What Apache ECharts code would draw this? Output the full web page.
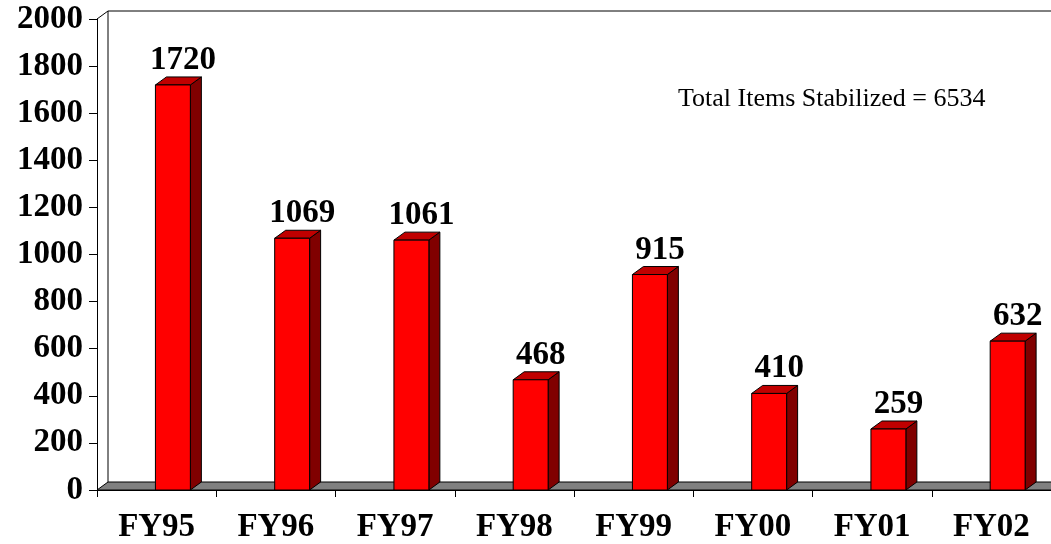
<!DOCTYPE html>
<html>
<head>
<meta charset="utf-8">
<script src="https://cdn.jsdelivr.net/npm/echarts@6/dist/echarts.min.js"></script>
<style>
html,body{margin:0;padding:0;background:#fff;}
#chart{width:1051px;height:544px;}
</style>
</head>
<body>
<div id="chart"></div>
<script>
const categories = ['FY95','FY96','FY97','FY98','FY99','FY00','FY01','FY02'];
const values = [1720, 1069, 1061, 468, 915, 410, 259, 632];
const yTicks = {min: 0, max: 2000, interval: 200};
const totalText = 'Total Items Stabilized = 6534';

const DX = 11, DY = -8;
const FONT = '"Liberation Serif", "Times New Roman", serif';

const chart = echarts.init(document.getElementById('chart'), null, {renderer: 'canvas'});

function renderFrame(params, api) {
  const cs = params.coordSys;
  const x = cs.x, y = cs.y, w = cs.width, h = cs.height;
  return {
    type: 'group',
    children: [
      {type: 'polygon', shape: {points: [[x, y + h], [x + w, y + h], [x + w + DX, y + h + DY], [x + DX, y + h + DY]]},
       style: {fill: '#808080', stroke: '#000', lineWidth: 1}},
      {type: 'polyline', shape: {points: [[x, y], [x + DX, y + DY], [x + w + DX, y + DY]]},
       style: {fill: null, stroke: '#000', lineWidth: 1}},
      {type: 'line', shape: {x1: x + DX, y1: y + DY, x2: x + DX, y2: y + h + DY},
       style: {stroke: '#000', lineWidth: 1}}
    ]
  };
}

function renderBar(params, api) {
  const idx = api.value(0);
  const val = api.value(1);
  const top = api.coord([idx, val]);
  const base = api.coord([idx, 0]);
  const bw = api.size([1, 0])[0];
  const x0 = top[0] - bw * 0.01;
  const bwid = bw * 0.293;
  const yt = top[1], yb = base[1];
  return {
    type: 'group',
    children: [
      {type: 'polygon', shape: {points: [[x0 + bwid, yt], [x0 + bwid + DX, yt + DY], [x0 + bwid + DX, yb + DY], [x0 + bwid, yb]]},
       style: {fill: '#800000', stroke: '#000', lineWidth: 1}},
      {type: 'polygon', shape: {points: [[x0, yt], [x0 + DX, yt + DY], [x0 + bwid + DX, yt + DY], [x0 + bwid, yt]]},
       style: {fill: '#C00000', stroke: '#000', lineWidth: 1}},
      {type: 'rect', shape: {x: x0, y: yt, width: bwid, height: yb - yt},
       style: {fill: '#FF0000', stroke: '#000', lineWidth: 1}},
      {type: 'text', x: x0 + DX + bwid / 2 - 1, y: yt + DY,
       style: {text: String(val), fill: '#000', font: 'bold 33px ' + FONT, align: 'center', verticalAlign: 'bottom'}}
    ]
  };
}

const option = {
  backgroundColor: '#fff',
  animation: false,
  grid: {left: 97, top: 19, width: 956, height: 472, containLabel: false},
  xAxis: {
    type: 'category',
    data: categories,
    boundaryGap: true,
    axisLine: {show: true, lineStyle: {color: '#000', width: 1}},
    axisTick: {show: true, length: 7, interval: 0, lineStyle: {color: '#000'}},
    axisLabel: {color: '#000', fontFamily: FONT, fontWeight: 'bold', fontSize: 33, margin: 21, interval: 0},
    splitLine: {show: false}
  },
  yAxis: {
    type: 'value',
    min: yTicks.min, max: yTicks.max, interval: yTicks.interval,
    axisLine: {show: true, lineStyle: {color: '#000', width: 1}},
    axisTick: {show: true, length: 8, lineStyle: {color: '#000'}},
    axisLabel: {color: '#000', fontFamily: FONT, fontWeight: 'bold', fontSize: 33, margin: 14,
                padding: [5, 0, 0, 0], formatter: v => String(v)},
    splitLine: {show: false}
  },
  graphic: [
    {type: 'text', left: 678, top: 86,
     style: {text: totalText, fill: '#000', font: '26px ' + FONT}}
  ],
  series: [
    {type: 'custom', renderItem: renderFrame, data: [[0]], z: 1, silent: true, clip: false},
    {type: 'custom', renderItem: renderBar, data: values.map((v, i) => [i, v]), z: 3, clip: false,
     encode: {x: 0, y: 1}}
  ]
};
chart.setOption(option);
</script>
</body>
</html>
